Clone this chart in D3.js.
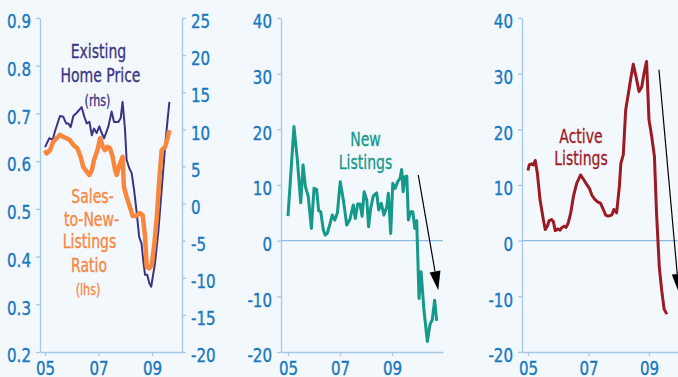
<!DOCTYPE html>
<html>
<head>
<meta charset="utf-8">
<script src="https://cdn.jsdelivr.net/npm/d3@7"></script>
<style>
html,body{margin:0;padding:0;background:#f3f8fd;}
svg{display:block;}
</style>
</head>
<body>
<svg id="chart" width="678" height="377"></svg>
<script>
// ---------- DATA ----------
const yearTicks = [2005, 2007, 2009];
const yearTickLabels = ["05", "07", "09"];

const ratioTicks = [0.2, 0.3, 0.4, 0.5, 0.6, 0.7, 0.8, 0.9];
const priceTicks = [-20, -15, -10, -5, 0, 5, 10, 15, 20, 25];
const listingTicks = [-20, -10, 0, 10, 20, 30, 40];

// Existing home price, y/y % (rhs)
const priceDates = [2005.0, 2005.16, 2005.29, 2005.37, 2005.56, 2005.68, 2005.79, 2005.87, 2005.96, 2006.06, 2006.18, 2006.37, 2006.47, 2006.56, 2006.66, 2006.75, 2006.83, 2006.93, 2007.03, 2007.12, 2007.21, 2007.37, 2007.49, 2007.58, 2007.74, 2007.83, 2007.90,
  2007.99, 2008.05, 2008.15, 2008.24, 2008.33, 2008.43, 2008.52, 2008.61, 2008.67, 2008.74, 2008.82, 2008.90, 2008.97, 2009.05, 2009.11, 2009.24, 2009.36, 2009.49, 2009.58, 2009.65];
const priceValues = [7.6, 8.8, 8.6, 9.7, 11.8, 11.7, 10.8, 10.8, 10.3, 11.8, 12.2, 13.0, 11.7, 10.8, 11.0, 9.2, 10.1, 9.5, 10.4, 9.5, 8.8, 10.4, 12.4, 11.0, 11.0, 11.5, 13.7,
  10.0, 5.9, 4.75, 4.1, 1.8, -1.3, -4.5, -5.4, -7.6, -9.6, -9.6, -10.75, -11.2, -9.4, -8.1, -3.6, 1.8, 7.7, 11.25, 13.7];

// Sales-to-new-listings ratio (lhs)
const ratioDates = [2005.0, 2005.06, 2005.19, 2005.31, 2005.44, 2005.56, 2005.68, 2005.81, 2005.93, 2006.06, 2006.21, 2006.33, 2006.43, 2006.56, 2006.66, 2006.75, 2006.83, 2006.96, 2007.06, 2007.16, 2007.24, 2007.33, 2007.43, 2007.53, 2007.62, 2007.68, 2007.78, 2007.90,
  2007.95, 2008.05, 2008.15, 2008.28, 2008.40, 2008.55, 2008.65, 2008.74, 2008.80, 2008.90, 2008.99, 2009.09, 2009.18, 2009.27, 2009.36, 2009.49, 2009.58, 2009.65];
const ratioValues = [0.623, 0.616, 0.623, 0.641, 0.648, 0.655, 0.651, 0.648, 0.644, 0.634, 0.627, 0.609, 0.588, 0.578, 0.571, 0.581, 0.602, 0.623, 0.648, 0.630, 0.623, 0.630, 0.627, 0.609, 0.581, 0.571, 0.592, 0.609,
  0.546, 0.525, 0.508, 0.485, 0.485, 0.491, 0.487, 0.442, 0.379, 0.375, 0.382, 0.428, 0.483, 0.560, 0.623, 0.630, 0.648, 0.665];

// New listings, y/y %
const newDates = [2005.0, 2005.23, 2005.36, 2005.49, 2005.58, 2005.67, 2005.78, 2005.90, 2006.0, 2006.10, 2006.18, 2006.26, 2006.36, 2006.43, 2006.51, 2006.62, 2006.70, 2006.80, 2006.90, 2007.01, 2007.13, 2007.26, 2007.38, 2007.51, 2007.59, 2007.68, 2007.77, 2007.85, 2007.93,
  2008.03, 2008.10, 2008.18, 2008.28, 2008.41, 2008.49, 2008.59, 2008.69, 2008.80, 2008.86, 2008.95, 2009.03, 2009.12, 2009.22, 2009.31, 2009.37, 2009.43, 2009.50, 2009.57, 2009.63, 2009.72, 2009.80, 2009.88, 2009.95,
  2010.04, 2010.12, 2010.23, 2010.36, 2010.46, 2010.55, 2010.64, 2010.72];
const newValues = [4.4, 20.5, 14.5, 6.8, 13.6, 9.7, 7.9, 2.2, 9.4, 9.2, 5.4, 5.2, 1.9, 1.0, 1.3, 3.1, 4.6, 3.7, 5.0, 10.6, 7.3, 2.8, 3.8, 6.4, 4.0, 6.6, 6.6, 4.4, 8.8,
  7.3, 2.5, 5.8, 8.0, 8.6, 5.5, 6.7, 4.6, 6.1, 8.5, 1.3, 10.3, 9.4, 10.6, 11.2, 12.8, 8.8, 11.5, 11.6, 3.7, 5.2, 5.2, 2.2, 3.6,
  -10.4, -5.6, -12.5, -18.1, -15.1, -14.2, -10.7, -14.4];

// Active listings, y/y %
const activeDates = [2005.0, 2005.04, 2005.12, 2005.18, 2005.24, 2005.31, 2005.40, 2005.51, 2005.57, 2005.64, 2005.70, 2005.78, 2005.84, 2005.90, 2005.98, 2006.06, 2006.11, 2006.19, 2006.26, 2006.33, 2006.41, 2006.50, 2006.61, 2006.74, 2006.85, 2006.94,
  2007.03, 2007.11, 2007.21, 2007.29, 2007.40, 2007.49, 2007.57, 2007.65, 2007.77, 2007.84, 2007.93, 2008.02, 2008.07, 2008.15, 2008.23, 2008.32, 2008.40, 2008.48, 2008.57, 2008.67, 2008.76, 2008.83, 2008.92,
  2009.0, 2009.09, 2009.18, 2009.25, 2009.34, 2009.42, 2009.50, 2009.59];
const activeValues = [12.6, 13.6, 13.8, 13.6, 14.4, 12.1, 7.3, 3.7, 2.0, 2.6, 3.6, 3.8, 3.4, 1.8, 2.1, 1.9, 2.3, 2.6, 2.4, 3.2, 4.9, 7.9, 10.3, 11.8, 10.9, 10.1,
  9.4, 8.2, 7.4, 7.0, 6.7, 5.6, 4.6, 4.4, 4.6, 5.6, 5.0, 9.7, 13.9, 15.4, 23.5, 26.5, 29.2, 31.7, 29.5, 26.8, 27.6, 29.9, 32.2,
  21.7, 18.7, 15.1, 4.9, -4.7, -8.9, -12.3, -13.2];

// Trend arrows (from [year, value] to [year, value])
const newArrow = [[2010.01, 11.8], [2010.78, -8.9]];
const activeArrow = [[2009.33, 30.7], [2009.99, -9.4]];

// ---------- STYLE ----------
const FONT = "'Liberation Sans Narrow','Arial Narrow','DejaVu Sans Condensed',sans-serif";
const AXIS = "#a5c8e8";
const TICKTXT = "#1878bf";
const C_PRICE = "#3a3484";
const C_RATIO = "#f8863c";
const C_NEW = "#15998a";
const C_ACTIVE = "#9c1b23";

const svg = d3.select("#chart");
svg.append("rect").attr("width", 678).attr("height", 377).attr("fill", "#f3f8fd");

const fmtHyphen = f => d => f(d).replace("\u2212", "-");

// horizontally condense text around its anchor x
function condense(sel, s) {
  sel.each(function () {
    const t = d3.select(this);
    const x = +t.attr("x") || 0;
    t.attr("transform", `translate(${x * (1 - s)},0) scale(${s},1)`);
  });
}

function styleAxis(g, anchorDy) {
  g.select(".domain").attr("stroke", AXIS).attr("stroke-width", 1.3);
  g.selectAll(".tick line").attr("stroke", AXIS).attr("stroke-width", 1.3);
  const tx = g.selectAll(".tick text").attr("fill", TICKTXT).attr("font-family", FONT).attr("font-size", 19.5)
    .attr("stroke", TICKTXT).attr("stroke-width", 0.35);
  if (anchorDy) tx.attr("dy", anchorDy);
  condense(tx, 0.86);
}

function xAxisFor(g, x, yPos) {
  const ax = d3.axisBottom(x).tickValues(yearTicks)
    .tickFormat((d, i) => yearTickLabels[i]).tickSize(4).tickSizeOuter(0).tickPadding(5);
  const gg = g.append("g").attr("transform", `translate(0,${yPos})`).call(ax);
  styleAxis(gg);
}

function arrow(g, x, y, pts) {
  const x1 = x(pts[0][0]), y1 = y(pts[0][1]), x2 = x(pts[1][0]), y2 = y(pts[1][1]);
  const ang = Math.atan2(y2 - y1, x2 - x1);
  const L = 19, W = 5.5;
  const bx = x2 - L * Math.cos(ang), by = y2 - L * Math.sin(ang);
  g.append("line").attr("x1", x1).attr("y1", y1).attr("x2", bx).attr("y2", by)
    .attr("stroke", "#000").attr("stroke-width", 1.2);
  const px = -Math.sin(ang) * W, py = Math.cos(ang) * W;
  g.append("path").attr("d", `M${x2},${y2}L${bx + px},${by + py}L${bx - px},${by - py}Z`).attr("fill", "#000");
}

function label(g, lines, cx, y0, color, sizes) {
  lines.forEach((t, i) => {
    const tx = g.append("text").attr("x", cx[i]).attr("y", y0[i]).attr("text-anchor", "middle")
      .attr("font-family", FONT).attr("font-size", sizes[i])
      .attr("fill", color).attr("stroke", color).attr("stroke-width", 0.3).text(t);
    condense(tx, 0.8);
  });
}

// ---------- PANEL 1 ----------
{
  const g = svg.append("g");
  const x = d3.scaleLinear().domain([2004.813, 2010.121]).range([40, 182]);
  const yL = d3.scaleLinear().domain([0.2, 0.9]).range([352, 18]);
  const yR = d3.scaleLinear().domain([-20, 25]).range([352, 18]);

  const aL = g.append("g").attr("transform", "translate(40,0)")
    .call(d3.axisLeft(yL).tickValues(ratioTicks).tickFormat(d3.format(".1f")).tickSize(4).tickSizeOuter(0).tickPadding(5));
  styleAxis(aL, "0.5em");
  const aR = g.append("g").attr("transform", "translate(182,0)")
    .call(d3.axisRight(yR).tickValues(priceTicks).tickFormat(fmtHyphen(d3.format("d"))).tickSize(4).tickSizeOuter(0).tickPadding(5));
  styleAxis(aR, "0.5em");
  xAxisFor(g, x, 352);

  const pricePts = priceDates.map((d, i) => [d, priceValues[i]]);
  const ratioPts = ratioDates.map((d, i) => [d, ratioValues[i]]);
  g.append("path").attr("d", d3.line().x(d => x(d[0])).y(d => yR(d[1]))(pricePts))
    .attr("fill", "none").attr("stroke", C_PRICE).attr("stroke-width", 2).attr("stroke-linejoin", "round");
  g.append("path").attr("d", d3.line().x(d => x(d[0])).y(d => yL(d[1]))(ratioPts))
    .attr("fill", "none").attr("stroke", C_RATIO).attr("stroke-width", 4.5).attr("stroke-linejoin", "round");

  label(g, ["Existing", "Home Price", "(rhs)"], [98.5, 100.5, 97.5], [58.5, 82, 106], C_PRICE, [19.5, 19.5, 15.5]);
  label(g, ["Sales-", "to-New-", "Listings", "Ratio", "(lhs)"], [92.5, 91.5, 89.5, 89, 88], [203, 226, 248.5, 272.5, 295], C_RATIO, [19.5, 19.5, 19.5, 19.5, 15.5]);
}

// ---------- PANEL 2 ----------
{
  const g = svg.append("g");
  const x = d3.scaleLinear().domain([2004.731, 2010.962]).range([281, 443]);
  const y = d3.scaleLinear().domain([-20, 40]).range([352, 18]);
  const aL = g.append("g").attr("transform", "translate(281,0)")
    .call(d3.axisLeft(y).tickValues(listingTicks).tickFormat(fmtHyphen(d3.format("d"))).tickSize(4).tickSizeOuter(0).tickPadding(5));
  styleAxis(aL, "0.5em");
  xAxisFor(g, x, 352);
  g.append("line").attr("x1", 281).attr("x2", 443).attr("y1", y(0)).attr("y2", y(0)).attr("stroke", "#8dbbe4").attr("stroke-width", 1.2);
  const pts = newDates.map((d, i) => [d, newValues[i]]);
  g.append("path").attr("d", d3.line().x(d => x(d[0])).y(d => y(d[1]))(pts))
    .attr("fill", "none").attr("stroke", C_NEW).attr("stroke-width", 3).attr("stroke-linejoin", "round");
  arrow(g, x, y, newArrow);
  label(g, ["New", "Listings"], [365.5, 365.5], [146, 169], C_NEW, [19.5, 19.5]);
}

// ---------- PANEL 3 ----------
{
  const g = svg.append("g");
  const x = d3.scaleLinear().domain([2004.802, 2009.959]).range([522, 678]);
  const y = d3.scaleLinear().domain([-20, 40]).range([352, 18]);
  const aL = g.append("g").attr("transform", "translate(522,0)")
    .call(d3.axisLeft(y).tickValues(listingTicks).tickFormat(fmtHyphen(d3.format("d"))).tickSize(4).tickSizeOuter(0).tickPadding(5));
  styleAxis(aL, "0.5em");
  xAxisFor(g, x, 352);
  g.append("line").attr("x1", 522).attr("x2", 678).attr("y1", y(0)).attr("y2", y(0)).attr("stroke", "#8dbbe4").attr("stroke-width", 1.2);
  const pts = activeDates.map((d, i) => [d, activeValues[i]]);
  g.append("path").attr("d", d3.line().x(d => x(d[0])).y(d => y(d[1]))(pts))
    .attr("fill", "none").attr("stroke", C_ACTIVE).attr("stroke-width", 3).attr("stroke-linejoin", "round");
  arrow(g, x, y, activeArrow);
  label(g, ["Active", "Listings"], [581, 581], [143, 165.5], C_ACTIVE, [19.5, 19.5]);
}
</script>
</body>
</html>
